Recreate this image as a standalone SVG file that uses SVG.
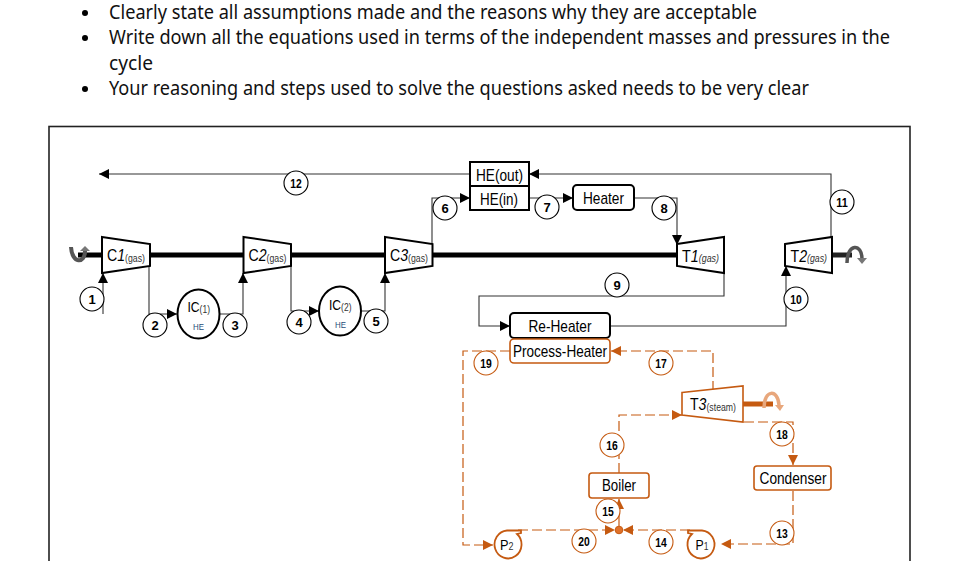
<svg xmlns="http://www.w3.org/2000/svg" width="970" height="561" viewBox="0 0 970 561">
<defs>
<marker id="ab" markerUnits="userSpaceOnUse" markerWidth="11" markerHeight="11" refX="10" refY="5.500" orient="auto"><path d="M0,0.500L10,5.500L0,10.500Z" fill="#000"/></marker>
<marker id="ao" markerUnits="userSpaceOnUse" markerWidth="11" markerHeight="11" refX="10" refY="5.500" orient="auto"><path d="M0,0.500L10,5.500L0,10.500Z" fill="#c55a11"/></marker>
</defs>
<style>
text{font-family:"Liberation Sans",Arial,sans-serif;fill:#000}
.doc{font-family:"Noto Sans","DejaVu Sans",sans-serif;font-size:19px;fill:#111}
.b{fill:#fff;stroke:#000;stroke-width:2}
.o{fill:#fff;stroke:#c55a11;stroke-width:1.6}
.p{fill:#fff;stroke:#c55a11;stroke-width:1.8}
.w{fill:none;stroke:#333;stroke-width:1.1}
.wo{fill:none;stroke:#c55a11;stroke-width:1.2;stroke-dasharray:10 4}
.n circle{fill:#fff;stroke:#000;stroke-width:1.1}
.n text{font-size:13px;font-weight:bold;text-anchor:middle}
.no circle{stroke:#c55a11}
.l{font-size:17px;text-anchor:middle}
.m{font-size:17px}
.s{font-size:10.500px;fill:#333}
.ic{font-size:15px}
.h{font-size:9.500px;fill:#1f4e79}
</style>
<g id="notes">
<circle cx="85" cy="13" r="3" fill="#000"/><circle cx="85" cy="38" r="3" fill="#000"/><circle cx="85" cy="89" r="3" fill="#000"/>
<text class="doc" x="109" y="19" textLength="648" lengthAdjust="spacingAndGlyphs">Clearly state all assumptions made and the reasons why they are acceptable</text>
<text class="doc" x="109" y="44" textLength="781" lengthAdjust="spacingAndGlyphs">Write down all the equations used in terms of the independent masses and pressures in the</text>
<text class="doc" x="109" y="70" textLength="44" lengthAdjust="spacingAndGlyphs">cycle</text>
<text class="doc" x="109" y="95" textLength="700" lengthAdjust="spacingAndGlyphs">Your reasoning and steps used to solve the questions asked needs to be very clear</text>
</g>
<rect id="frame" x="49" y="126.500" width="861" height="440" fill="none" stroke="#222" stroke-width="1.600"/>
<g id="shafts">
<path d="M78,255H677" stroke="#000" stroke-width="5"/>
<path d="M832,255H852" stroke="#222" stroke-width="5"/>
<path d="M743,404H773" stroke="#c55a11" stroke-width="5"/>
<path d="M71,247C72,264 85,264 85,251" fill="none" stroke="#555" stroke-width="4"/><path d="M80,251L85,246L90,251Z" fill="#777"/>
<path d="M847,263C847,243 862,243 862,259" fill="none" stroke="#555" stroke-width="3.500"/><path d="M857,258L867,258L862,264Z" fill="#777"/>
<path d="M764,408C764,389 778,389 779,405" fill="none" stroke="#e8a77c" stroke-width="3.500"/><path d="M775,405L784,405L780,411Z" fill="#e8a77c"/>
</g>
<g id="connectors">
<path class="w" d="M470,174H99" marker-end="url(#ab)"/>
<path class="w" d="M103,314V273" marker-end="url(#ab)"/>
<path class="w" d="M149,266V314H177" marker-end="url(#ab)"/>
<path class="w" d="M220,314H243V273" marker-end="url(#ab)"/>
<path class="w" d="M291,266V311H319" marker-end="url(#ab)"/>
<path class="w" d="M362,311H385V273" marker-end="url(#ab)"/>
<path class="w" d="M432,244V198H470" marker-end="url(#ab)"/>
<path class="w" d="M529,198H573" marker-end="url(#ab)"/>
<path class="w" d="M634,198H677V245" marker-end="url(#ab)"/>
<path class="w" d="M724,272V296H479V326H510" marker-end="url(#ab)"/>
<path class="w" d="M610,326H786V266" marker-end="url(#ab)"/>
<path class="w" d="M831,237V174H529" marker-end="url(#ab)"/>
<path class="wo" d="M713,391V351H611" marker-end="url(#ao)"/>
<path class="wo" d="M510,351H463V545H493" marker-end="url(#ao)"/>
<path class="wo" d="M619,473V415H682" marker-end="url(#ao)"/>
<path class="wo" d="M744,422H793V465" marker-end="url(#ao)"/>
<path class="wo" d="M793,491V544H721" marker-end="url(#ao)"/>
<path class="wo" d="M518,530H615" marker-end="url(#ao)"/>
<path class="wo" d="M690,530H623" marker-end="url(#ao)"/>
<path d="M619,526V499" fill="none" stroke="#c55a11" stroke-width="1.200" marker-end="url(#ao)"/>
<circle cx="619" cy="530" r="3.800" fill="#e0712a" stroke="#c55a11"/>
</g>
<g id="C1"><path class="b" d="M102,237L150,244V266L102,273Z"/><text x="107" y="261" class="m" textLength="38" lengthAdjust="spacingAndGlyphs">C<tspan font-style="italic">1</tspan><tspan class="s" dy="1">(gas)</tspan></text></g>
<g id="C2"><path class="b" d="M243.500,237L291,244V266L243.500,273Z"/><text x="248.500" y="261" class="m" textLength="38" lengthAdjust="spacingAndGlyphs">C<tspan font-style="italic">2</tspan><tspan class="s" dy="1">(gas)</tspan></text></g>
<g id="C3"><path class="b" d="M385,237L432.500,244V266L385,273Z"/><text x="390" y="261" class="m" textLength="38" lengthAdjust="spacingAndGlyphs">C<tspan font-style="italic">3</tspan><tspan class="s" dy="1">(gas)</tspan></text></g>
<g id="T1"><path class="b" d="M677,244L724,237V273L677,266Z"/><text x="682" y="262" class="m" textLength="37" lengthAdjust="spacingAndGlyphs">T<tspan font-style="italic">1</tspan><tspan class="s" font-style="italic">(gas)</tspan></text></g>
<g id="T2"><path class="b" d="M785,244L832,237V273L785,266Z"/><text x="790.500" y="262" class="m" textLength="36.500" lengthAdjust="spacingAndGlyphs">T<tspan font-style="italic">2</tspan><tspan class="s" font-style="italic">(gas)</tspan></text></g>
<g id="T3"><path fill="#fff" stroke="#c55a11" stroke-width="1.600" d="M682,392.500L743,386V422L682,415Z"/><text x="690" y="410" class="m" textLength="46" lengthAdjust="spacingAndGlyphs">T<tspan font-style="italic">3</tspan><tspan class="s" dy="1">(steam)</tspan></text></g>
<g id="IC1"><ellipse class="b" cx="198.500" cy="314" rx="21" ry="24.500"/><text x="187.500" y="312" class="ic" textLength="22.500" lengthAdjust="spacingAndGlyphs">IC<tspan class="s" dy="1">(1)</tspan></text><text x="193" y="329.500" class="h" textLength="11" lengthAdjust="spacingAndGlyphs">HE</text></g>
<g id="IC2"><ellipse class="b" cx="340" cy="311" rx="21" ry="24.500"/><text x="329" y="310" class="ic" textLength="22.500" lengthAdjust="spacingAndGlyphs">IC<tspan class="s" dy="1">(2)</tspan></text><text x="335" y="327.700" class="h" textLength="11" lengthAdjust="spacingAndGlyphs">HE</text></g>
<g id="HEout"><rect class="b" x="470" y="162" width="59" height="24"/><text class="l" x="499.500" y="180.500" textLength="47" lengthAdjust="spacingAndGlyphs">HE(out)</text></g>
<g id="HEin"><rect class="b" x="470" y="186" width="59" height="24"/><text class="l" x="499" y="204.500" textLength="38" lengthAdjust="spacingAndGlyphs">HE(in)</text></g>
<g id="Heater"><rect class="b" x="573" y="185" width="61" height="25" rx="4"/><text class="l" x="603.500" y="204" textLength="41" lengthAdjust="spacingAndGlyphs">Heater</text></g>
<g id="ReHeater"><rect class="b" x="510" y="313" width="100" height="25" rx="4"/><text class="l" x="560" y="332" textLength="63" lengthAdjust="spacingAndGlyphs">Re-Heater</text></g>
<g id="ProcessHeater"><rect class="o" x="510" y="339" width="100" height="24" rx="4"/><text class="l" x="560" y="357" textLength="94" lengthAdjust="spacingAndGlyphs">Process-Heater</text></g>
<g id="Boiler"><rect class="o" x="589" y="473" width="60" height="25" rx="3"/><text class="l" x="619" y="491" textLength="34" lengthAdjust="spacingAndGlyphs">Boiler</text></g>
<g id="Condenser"><rect class="o" x="754" y="466" width="77" height="24" rx="3"/><text class="l" x="793" y="484" textLength="67" lengthAdjust="spacingAndGlyphs">Condenser</text></g>
<g id="P2"><path class="p" d="M507,530.500H521V533L517,534A13.500,14 0 1 1 507,530.500Z"/><text x="500" y="550" class="ic" textLength="13.500" lengthAdjust="spacingAndGlyphs">P<tspan class="s">2</tspan></text></g>
<g id="P1"><path class="p" d="M702,530.500H688V533L692,534A13.500,14 0 1 0 702,530.500Z"/><text x="695.500" y="550" class="ic" textLength="13" lengthAdjust="spacingAndGlyphs">P<tspan class="s">1</tspan></text></g>
<g id="labels">
<g class="n"><circle cx="296" cy="183" r="12"/><text x="296" y="187.500" textLength="11.500" lengthAdjust="spacingAndGlyphs">12</text></g>
<g class="n"><circle cx="445" cy="208" r="12"/><text x="445" y="212.500">6</text></g>
<g class="n"><circle cx="547" cy="207" r="12"/><text x="547" y="211.500">7</text></g>
<g class="n"><circle cx="664" cy="208" r="12"/><text x="664" y="212.500">8</text></g>
<g class="n"><circle cx="842" cy="202" r="12"/><text x="842" y="206.500" textLength="11.500" lengthAdjust="spacingAndGlyphs">11</text></g>
<g class="n"><circle cx="92" cy="299" r="12"/><text x="92" y="303.500">1</text></g>
<g class="n"><circle cx="155" cy="325" r="12"/><text x="155" y="329.500">2</text></g>
<g class="n"><circle cx="235" cy="325" r="12"/><text x="235" y="329.500">3</text></g>
<g class="n"><circle cx="299" cy="322" r="12"/><text x="299" y="326.500">4</text></g>
<g class="n"><circle cx="376" cy="321" r="12"/><text x="376" y="325.500">5</text></g>
<g class="n"><circle cx="617" cy="285" r="12"/><text x="617" y="289.500">9</text></g>
<g class="n"><circle cx="796" cy="299" r="12"/><text x="796" y="303.500" textLength="11.500" lengthAdjust="spacingAndGlyphs">10</text></g>
<g class="n no"><circle cx="486" cy="363" r="12"/><text x="486" y="367.500" textLength="11.500" lengthAdjust="spacingAndGlyphs">19</text></g>
<g class="n no"><circle cx="661" cy="363" r="12"/><text x="661" y="367.500" textLength="11.500" lengthAdjust="spacingAndGlyphs">17</text></g>
<g class="n no"><circle cx="612" cy="445" r="12"/><text x="612" y="449.500" textLength="11.500" lengthAdjust="spacingAndGlyphs">16</text></g>
<g class="n no"><circle cx="782" cy="434" r="12"/><text x="782" y="438.500" textLength="11.500" lengthAdjust="spacingAndGlyphs">18</text></g>
<g class="n no"><circle cx="608" cy="511" r="12"/><text x="608" y="515.500" textLength="11.500" lengthAdjust="spacingAndGlyphs">15</text></g>
<g class="n no"><circle cx="782" cy="533" r="12"/><text x="782" y="537.500" textLength="11.500" lengthAdjust="spacingAndGlyphs">13</text></g>
<g class="n no"><circle cx="584" cy="541" r="12"/><text x="584" y="545.500" textLength="11.500" lengthAdjust="spacingAndGlyphs">20</text></g>
<g class="n no"><circle cx="661" cy="542" r="12"/><text x="661" y="546.500" textLength="11.500" lengthAdjust="spacingAndGlyphs">14</text></g>
</g>
</svg>
